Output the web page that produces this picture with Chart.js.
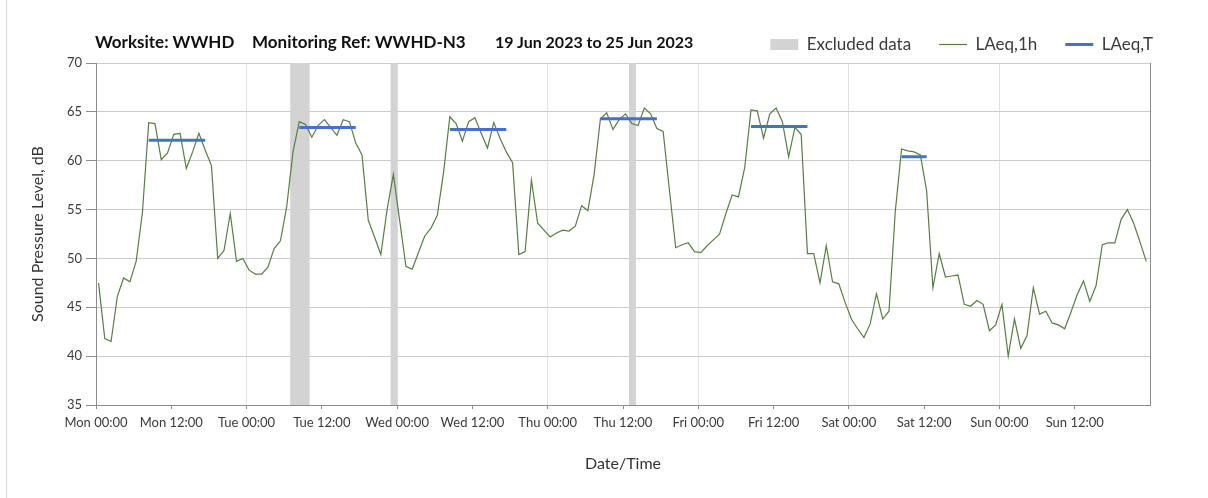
<!DOCTYPE html>
<html>
<head>
<meta charset="utf-8">
<script src="https://cdn.jsdelivr.net/npm/chart.js@4.4.0/dist/chart.umd.min.js"></script>
<style>
  html, body { margin: 0; padding: 0; background: #fff; }
  #wrap { position: relative; width: 1208px; height: 498px; }
  #frame { position: absolute; left: 6px; top: 0; width: 1px; height: 498px; background: #d9d9d9; }
  .ttl { position: absolute; top: 31px; font: bold 17px Lato, sans-serif; color: #111; white-space: nowrap; }
</style>
</head>
<body>
<div id="wrap">
  <canvas id="noise" width="1208" height="498"></canvas>
  <div id="frame"></div>
  <span class="ttl" style="left:95px">Worksite: WWHD</span>
  <span class="ttl" style="left:252px">Monitoring Ref: WWHD-N3</span>
  <span class="ttl" style="left:495px;font-size:16px;top:32px">19 Jun 2023 to 25 Jun 2023</span>
</div>
<script>
"use strict";

// hourly LAeq,1h from Mon 00:00 (index 0) to Sun 23:00 (index 167)
const LAEQ_1H = [
  47.5, 41.8, 41.5, 46.1, 48.0, 47.6, 49.7, 54.7, 63.9, 63.8, 60.1, 60.8,
  62.7, 62.8, 59.2, 60.9, 62.8, 61.1, 59.5, 50.0, 50.8, 54.6, 49.7, 50.0,
  48.8, 48.4, 48.4, 49.1, 51.0, 51.8, 55.3, 60.9, 64.0, 63.7, 62.4, 63.6,
  64.2, 63.4, 62.6, 64.2, 64.0, 61.8, 60.6, 53.9, 52.2, 50.4, 55.0, 58.6,
  53.9, 49.2, 48.9, 50.6, 52.3, 53.1, 54.4, 58.8, 64.5, 63.8, 62.0, 64.0,
  64.4, 62.8, 61.3, 63.9, 62.3, 60.9, 59.8, 50.4, 50.7, 58.0, 53.6, 52.9,
  52.2, 52.6, 52.9, 52.8, 53.3, 55.4, 54.9, 58.6, 64.3, 64.9, 63.2, 64.2,
  64.8, 63.8, 63.6, 65.4, 64.8, 63.3, 63.0, 57.0, 51.1, 51.4, 51.6, 50.7,
  50.6, 51.3, 51.9, 52.5, 54.6, 56.5, 56.3, 59.3, 65.2, 65.1, 62.3, 64.8,
  65.4, 64.0, 60.4, 63.4, 62.7, 50.5, 50.5, 47.5, 51.3, 47.6, 47.4, 45.5,
  43.8, 42.8, 41.9, 43.3, 46.4, 43.8, 44.6, 54.8, 61.2, 61.0, 60.9, 60.6,
  56.9, 47.0, 50.5, 48.1, 48.2, 48.3, 45.3, 45.1, 45.7, 45.3, 42.6, 43.2,
  45.3, 40.0, 43.8, 40.8, 42.1, 47.0, 44.3, 44.6, 43.4, 43.2, 42.8, 44.5,
  46.3, 47.7, 45.6, 47.2, 51.4, 51.6, 51.6, 54.0, 55.0, 53.6, 51.7, 49.7
];

// LAeq,T day periods (hour index of first and last hour) and level
const LAEQT_START = [8, 32, 56, 80, 104, 128];
const LAEQT_END   = [17, 41, 65, 89, 113, 132];
const LAEQT_LEVEL = [62.1, 63.4, 63.2, 64.3, 63.5, 60.4];

// hours flagged as excluded
const EXCLUDED_HOURS = [31, 32, 33, 47, 85];

const X_TICK_LABELS = [
  "Mon 00:00", "Mon 12:00", "Tue 00:00", "Tue 12:00", "Wed 00:00", "Wed 12:00",
  "Thu 00:00", "Thu 12:00", "Fri 00:00", "Fri 12:00", "Sat 00:00", "Sat 12:00",
  "Sun 00:00", "Sun 12:00"
];

const Y_MIN = 35, Y_MAX = 70;
const PT = 0.4;                 // samples sit slightly right of the hour mark
const AXIS = "#8c8c8c";
const TXT = "#3a3a3a";
const FONT = "Lato, 'Open Sans', sans-serif";

const lineData = LAEQ_1H.map((v, i) => ({ x: i + PT, y: v }));
const laeqT = [];
LAEQT_START.forEach((s, i) => {
  laeqT.push({ x: s + PT, y: LAEQT_LEVEL[i] }, { x: LAEQT_END[i] + PT, y: LAEQT_LEVEL[i] });
  laeqT.push({ x: LAEQT_END[i] + PT + 0.5, y: null });    // break between days
});
const excluded = EXCLUDED_HOURS.map((h) => ({ x: h + 0.5, y: [Y_MIN, Y_MAX] }));

const LEGEND_STYLE = ["rect", "line", "line"];   // by dataset index

new Chart(document.getElementById("noise"), {
  type: "line",
  data: {
    datasets: [
      { type: "bar", label: "Excluded data", data: excluded, backgroundColor: "#d3d3d3",
        borderWidth: 0, barPercentage: 1, categoryPercentage: 1, order: 3 },
      { label: "LAeq,1h", data: lineData, borderColor: "#587d44", borderWidth: 1.2,
        pointRadius: 0, tension: 0, order: 2 },
      { label: "LAeq,T", data: laeqT, borderColor: "#4472c4", borderWidth: 3,
        borderCapStyle: "butt", pointRadius: 0, spanGaps: false, order: 1 },
    ],
  },
  options: {
    responsive: false, animation: false,
    layout: { padding: { left: 24, right: 27, top: 8, bottom: 21 } },
    plugins: {
      tooltip: { enabled: false },
      legend: {
        position: "top", align: "end", maxHeight: 62,
        labels: {
          usePointStyle: true, pointStyleWidth: 28, boxHeight: 11, padding: 28,
          color: TXT, font: { family: FONT, size: 17 },
          sort: (a, b) => a.datasetIndex - b.datasetIndex,
          generateLabels(chart) {
            const items = Chart.defaults.plugins.legend.labels.generateLabels(chart);
            items.forEach((it) => {
              it.pointStyle = LEGEND_STYLE[it.datasetIndex];
              if (it.datasetIndex === 0) { it.fillStyle = "#d3d3d3"; it.lineWidth = 0; }
            });
            return items;
          },
        },
      },
    },
    scales: {
      x: {
        type: "linear", min: 0, max: 168, offset: false,
        grid: { offset: false, tickLength: 4, tickColor: AXIS,
                color: (c) => (c.tick && c.tick.value % 24 === 0 ? "#e2e2e2" : "rgba(0,0,0,0)") },
        border: { color: AXIS },
        ticks: { stepSize: 12, autoSkip: false, maxRotation: 0, padding: 6, color: TXT,
                 font: { family: FONT, size: 13 },
                 callback: (v) => (X_TICK_LABELS[v / 12] === undefined ? null : X_TICK_LABELS[v / 12]) },
        title: { display: true, text: "Date/Time", color: "#333", font: { family: FONT, size: 16 },
                 padding: { top: 4, bottom: 4 } },
        afterFit: (s) => { s.height = 72; },
      },
      y: {
        min: Y_MIN, max: Y_MAX,
        grid: { color: "#cbcbcb", tickColor: AXIS, tickLength: 10 },
        border: { color: AXIS },
        ticks: { stepSize: 5, padding: 4, color: TXT, font: { family: FONT, size: 13 } },
        title: { display: true, text: "Sound Pressure Level, dB", color: "#333",
                 font: { family: FONT, size: 16 }, padding: { top: 4, bottom: 4 } },
        afterFit: (s) => { s.width = 72; },
      },
      y2: {
        position: "right", min: Y_MIN, max: Y_MAX,
        grid: { drawOnChartArea: false, drawTicks: false },
        border: { color: AXIS },
        ticks: { display: false },
        afterFit: (s) => { s.width = 31; },
      },
    },
  },
});
</script>
</body>
</html>
